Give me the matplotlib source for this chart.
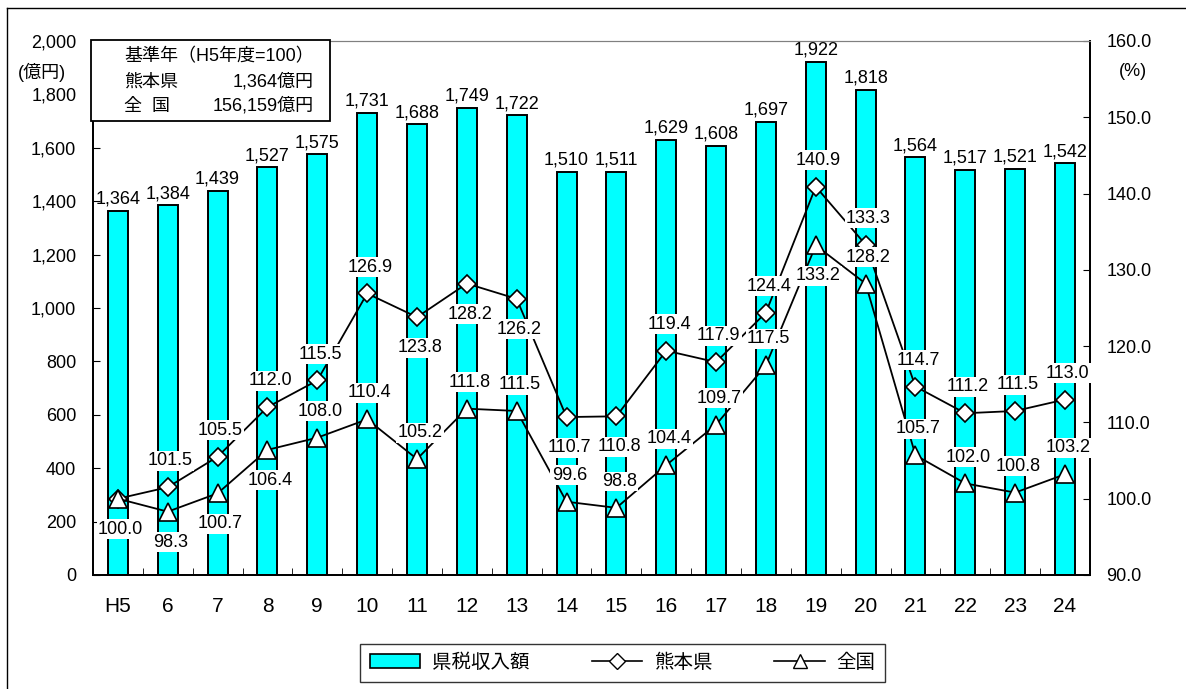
import matplotlib.pyplot as plt
import numpy as np
from matplotlib.patches import Patch, Rectangle
from matplotlib.lines import Line2D

plt.rcParams["font.family"] = ["Liberation Sans", "Noto Sans CJK JP", "DejaVu Sans"]

# fiscal years (Heisei)
years = ["H5", "6", "7", "8", "9", "10", "11", "12", "13", "14",
         "15", "16", "17", "18", "19", "20", "21", "22", "23", "24"]
# prefectural tax revenue (100 million yen)
revenue = [1364, 1384, 1439, 1527, 1575, 1731, 1688, 1749, 1722, 1510,
           1511, 1629, 1608, 1697, 1922, 1818, 1564, 1517, 1521, 1542]
# index, H5 = 100
kumamoto = [100.0, 101.5, 105.5, 112.0, 115.5, 126.9, 123.8, 128.2, 126.2, 110.7,
            110.8, 119.4, 117.9, 124.4, 140.9, 133.3, 114.7, 111.2, 111.5, 113.0]
national = [100.0, 98.3, 100.7, 106.4, 108.0, 110.4, 105.2, 111.8, 111.5, 99.6,
            98.8, 104.4, 109.7, 117.5, 133.2, 128.2, 105.7, 102.0, 100.8, 103.2]

# label side for each point: a = above, b = below
kumamoto_side = list("baaaaabbbbbaaaaaaaaa")
national_side = list("bbbbaaaaaaaaaabaaaaa")

FS = 13
x = np.arange(len(years))

fig = plt.figure(figsize=(11.86, 6.89), dpi=100)
ax = fig.add_axes([0.0784, 0.1655, 0.8406, 0.775])
ax2 = ax.twinx()
ax2.set_zorder(ax.get_zorder() + 1)
ax2.patch.set_visible(False)

# bars
bars = ax.bar(x, revenue, width=0.4, color="#00FFFF", edgecolor="black",
              linewidth=1.4, zorder=2)
for xi, v in zip(x, revenue):
    ax.text(xi, v + 12, f"{v:,}", ha="center", va="bottom", fontsize=FS,
            zorder=3)

ax.set_xlim(-0.5, len(years) - 0.5)
ax.set_ylim(0, 2000)
ax.set_yticks(np.arange(0, 2001, 200))
ax.set_yticklabels([f"{v:,}" for v in range(0, 2001, 200)], fontsize=FS)
ax.set_xticks(x)
ax.set_xticklabels(years, fontsize=FS + 2)
ax.set_xticks(np.arange(-0.5, len(years)), minor=True)
ax.tick_params(axis="x", which="major", length=0, pad=16)
ax.tick_params(axis="x", which="minor", length=5, direction="in")
ax.tick_params(axis="y", length=5, direction="in", pad=12)

# index lines
ax2.plot(x, kumamoto, color="black", linewidth=1.3, marker="D",
         markersize=9, markerfacecolor="white", markeredgecolor="black",
         markeredgewidth=1.2, zorder=3)
ax2.plot(x, national, color="black", linewidth=1.3, marker="^",
         markersize=13, markerfacecolor="white", markeredgecolor="black",
         markeredgewidth=1.2, zorder=3)
ax2.set_ylim(90, 160)
ax2.set_yticks(np.arange(90, 161, 10))
ax2.set_yticklabels([f"{v:.1f}" for v in range(90, 161, 10)], fontsize=FS)
ax2.tick_params(axis="y", length=5, direction="in", pad=12)

box = dict(boxstyle="square,pad=0.08", facecolor="white", edgecolor="none")
for series, sides in ((kumamoto, kumamoto_side), (national, national_side)):
    for xi, v, s in zip(x, series, sides):
        dy = 19 if s == "a" else -22
        ax2.annotate(f"{v:.1f}", (xi, v), xytext=(2, dy),
                     textcoords="offset points", ha="center", va="center",
                     fontsize=FS, bbox=box, zorder=5)

for a in (ax, ax2):
    a.spines["top"].set_color("#808080")
    a.spines["left"].set_linewidth(1.3)
    a.spines["bottom"].set_linewidth(1.3)
    a.spines["right"].set_linewidth(1.3)

# unit labels
fig.text(42 / 1186, 1 - 72 / 689, "(億円)", ha="center", va="center", fontsize=FS)
fig.text(1133 / 1186, 1 - 72 / 689, "(%)", ha="center", va="center", fontsize=FS)

# base-year note box
fig.patches.append(Rectangle((91 / 1186, 1 - 121 / 689), 239 / 1186, 81 / 689,
                             transform=fig.transFigure, facecolor="white",
                             edgecolor="black", linewidth=1.3, zorder=10))
note_rows = [("基準年（H5年度=100）", "", 57),
             ("熊本県", "1,364億円", 82),
             ("全  国", "156,159億円", 106)]
for left, right, yy in note_rows:
    fig.text(124 / 1186, 1 - yy / 689, left, ha="left", va="center",
             fontsize=FS, zorder=11)
    if right:
        fig.text(314 / 1186, 1 - yy / 689, right, ha="right", va="center",
                 fontsize=FS, zorder=11)

# legend
handles = [Patch(facecolor="#00FFFF", edgecolor="black", linewidth=1.2),
           Line2D([], [], color="black", linewidth=1.2, marker="D",
                  markersize=8, markerfacecolor="white", markeredgecolor="black"),
           Line2D([], [], color="black", linewidth=1.2, marker="^",
                  markersize=10, markerfacecolor="white", markeredgecolor="black")]
leg = fig.legend(handles, ["県税収入額", "熊本県", "全国"], ncol=3,
                 loc="center", bbox_to_anchor=(0.525, 0.038), fontsize=FS + 1,
                 frameon=True, fancybox=False, edgecolor="black",
                 handlelength=2.6, columnspacing=3.2, handletextpad=0.6,
                 borderpad=0.5)
leg.get_frame().set_linewidth(1.0)

# outer frame
fig.add_artist(Line2D([7 / 1186, 7 / 1186], [0, 1 - 8 / 689], color="black",
                      linewidth=1.0, transform=fig.transFigure))
fig.add_artist(Line2D([7 / 1186, 1], [1 - 8 / 689, 1 - 8 / 689], color="black",
                      linewidth=1.0, transform=fig.transFigure))

fig.savefig("out.png", dpi=100)
